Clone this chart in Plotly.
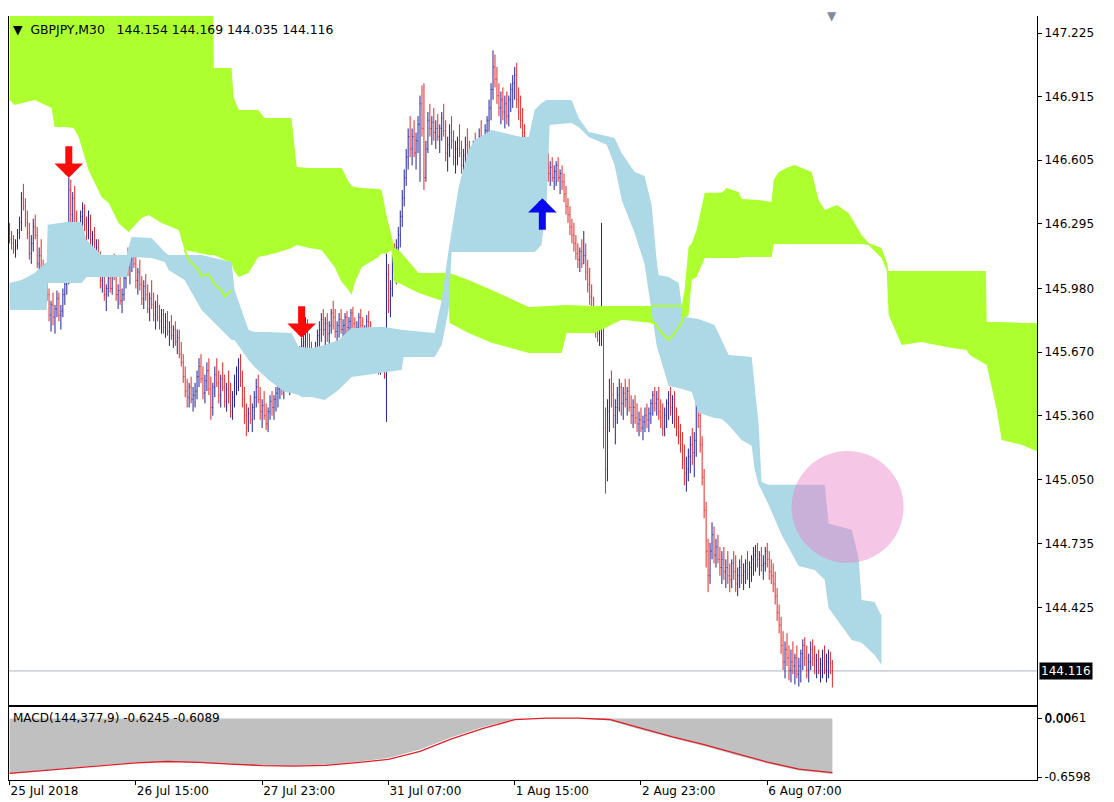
import plotly.graph_objects as go

# ---------------- price bars (GBPJPY M30) ----------------
first_open = 146.27
bar_high = [
146.30,146.26,146.24,146.22,146.27,146.33,146.45,146.49,146.42,146.36,
146.30,146.24,146.32,146.34,146.28,146.18,146.22,146.12,146.10,146.08,
145.98,145.92,145.96,145.90,145.97,145.96,145.90,145.98,146.04,146.10,
146.52,146.51,146.45,146.48,146.36,146.30,146.36,146.40,146.39,146.33,
146.36,146.34,146.26,146.28,146.22,146.22,146.16,146.10,146.10,146.00,
146.06,146.08,146.12,146.15,146.08,146.00,146.04,145.98,146.06,146.12,
146.18,146.14,146.20,146.22,146.14,146.08,146.12,146.04,146.02,146.05,
146.00,145.96,146.02,145.96,145.92,145.95,145.90,145.88,145.88,145.86,
145.87,145.82,145.85,145.80,145.82,145.78,145.78,145.72,145.66,145.60,
145.54,145.52,145.55,145.50,145.52,145.58,145.64,145.66,145.60,145.56,
145.62,145.64,145.55,145.52,145.60,145.64,145.58,145.56,145.62,145.56,
145.52,145.58,145.52,145.48,145.56,145.60,145.64,145.66,145.58,145.50,
145.42,145.40,145.46,145.42,145.48,145.54,145.56,145.50,145.44,145.48,
145.42,145.40,145.46,145.48,145.46,145.50,145.52,145.56,145.58,145.56,
145.60,145.62,145.58,145.64,145.66,145.62,145.66,145.70,145.74,145.78,
145.84,145.83,145.76,145.72,145.68,145.72,145.78,145.82,145.86,145.88,
145.84,145.86,145.82,145.88,145.92,145.88,145.82,145.86,145.88,145.83,
145.86,145.87,145.84,145.88,145.89,145.84,145.82,145.86,145.88,145.84,
145.80,145.85,145.87,145.82,145.78,145.74,145.76,145.70,145.68,145.74,
145.66,146.15,146.10,146.02,146.14,146.20,146.22,146.28,146.36,146.46,
146.56,146.66,146.76,146.82,146.76,146.80,146.74,146.82,146.92,146.97,
146.98,146.70,146.84,146.88,146.82,146.86,146.80,146.83,146.78,146.84,
146.88,146.80,146.72,146.78,146.82,146.75,146.70,146.72,146.78,146.70,
146.66,146.72,146.76,146.70,146.64,146.70,146.74,146.70,146.76,146.80,
146.72,146.78,146.82,146.90,146.98,147.14,147.12,147.06,146.98,146.94,
146.96,146.92,146.94,146.92,146.98,147.02,147.06,147.08,146.96,146.92,
146.86,146.78,146.68,146.58,146.52,146.54,146.50,146.52,146.48,146.52,
146.56,146.58,146.67,146.64,146.60,146.62,146.58,146.60,146.62,146.56,
146.58,146.54,146.48,146.42,146.38,146.32,146.30,146.24,146.20,146.18,
146.22,146.26,146.20,146.12,146.08,146.00,145.94,145.88,145.86,145.82,
146.30,145.84,145.40,145.44,145.54,145.58,145.52,145.44,145.50,145.54,
145.52,145.50,145.54,145.50,145.54,145.46,145.44,145.46,145.42,145.38,
145.40,145.36,145.40,145.42,145.40,145.44,145.48,145.50,145.48,145.50,
145.44,145.42,145.40,145.44,145.48,145.50,145.46,145.48,145.40,145.36,
145.32,145.28,145.22,145.16,145.20,145.26,145.30,145.28,145.46,145.54,
145.40,145.26,145.10,144.94,144.76,144.74,144.84,144.82,144.76,144.78,
144.72,144.70,144.72,144.66,144.70,144.64,144.66,144.70,144.68,144.62,
144.66,144.68,144.64,144.66,144.70,144.65,144.68,144.72,144.73,144.74,
144.70,144.72,144.68,144.72,144.74,144.70,144.66,144.64,144.60,144.52,
144.44,144.38,144.31,144.26,144.30,144.24,144.22,144.26,144.20,144.24,
144.18,144.22,144.27,144.28,144.24,144.20,144.26,144.27,144.24,144.20,
144.22,144.18,144.22,144.24,144.20,144.22,144.21,144.169]
bar_low = [
146.20,146.17,146.15,146.13,146.17,146.22,146.26,146.36,146.28,146.22,
146.12,146.10,146.16,146.22,146.08,146.03,146.06,146.00,145.98,145.92,
145.82,145.77,145.80,145.76,145.84,145.82,145.78,145.84,145.90,145.95,
146.00,146.30,146.20,146.28,146.14,146.15,146.22,146.28,146.26,146.20,
146.22,146.18,146.12,146.10,146.06,146.04,145.98,145.96,145.92,145.87,
145.94,145.96,145.95,146.02,145.92,145.88,145.90,145.86,145.92,145.98,
146.04,146.00,146.06,146.08,145.98,145.95,145.97,145.90,145.88,145.92,
145.86,145.82,145.88,145.82,145.78,145.82,145.78,145.76,145.76,145.74,
145.75,145.70,145.73,145.69,145.70,145.66,145.64,145.60,145.52,145.45,
145.40,145.40,145.42,145.38,145.40,145.44,145.50,145.52,145.44,145.42,
145.48,145.46,145.34,145.36,145.45,145.50,145.42,145.40,145.48,145.40,
145.38,145.42,145.35,145.34,145.40,145.46,145.48,145.50,145.40,145.32,
145.26,145.28,145.32,145.28,145.34,145.40,145.42,145.34,145.30,145.34,
145.29,145.28,145.34,145.36,145.34,145.38,145.40,145.44,145.46,145.44,
145.48,145.50,145.46,145.50,145.52,145.49,145.52,145.54,145.52,145.60,
145.66,145.68,145.62,145.58,145.56,145.60,145.64,145.68,145.72,145.75,
145.70,145.72,145.70,145.76,145.78,145.74,145.70,145.74,145.76,145.72,
145.75,145.76,145.73,145.77,145.78,145.72,145.71,145.75,145.77,145.72,
145.70,145.74,145.75,145.70,145.64,145.60,145.62,145.56,145.56,145.60,
145.54,145.33,145.86,145.84,145.94,146.02,146.00,146.12,146.18,146.28,
146.38,146.48,146.56,146.62,146.58,146.62,146.56,146.64,146.50,146.72,
146.46,146.50,146.64,146.72,146.68,146.70,146.66,146.70,146.64,146.70,
146.72,146.60,146.55,146.62,146.66,146.58,146.54,146.58,146.62,146.54,
146.51,146.56,146.60,146.54,146.50,146.56,146.60,146.55,146.62,146.64,
146.58,146.64,146.68,146.72,146.80,146.90,146.96,146.88,146.82,146.78,
146.80,146.76,146.78,146.77,146.84,146.86,146.90,146.86,146.80,146.76,
146.70,146.60,146.50,146.42,146.38,146.36,146.35,146.38,146.34,146.36,
146.42,146.44,146.48,146.50,146.48,146.50,146.46,146.48,146.50,146.44,
146.46,146.40,146.34,146.30,146.24,146.20,146.16,146.12,146.08,146.06,
146.08,146.10,146.02,145.96,145.90,145.84,145.78,145.74,145.72,145.70,
145.70,145.20,144.98,145.04,145.28,145.40,145.30,145.22,145.32,145.38,
145.36,145.34,145.40,145.36,145.38,145.32,145.30,145.32,145.28,145.26,
145.28,145.24,145.28,145.30,145.28,145.32,145.36,145.38,145.36,145.34,
145.30,145.26,145.26,145.30,145.34,145.36,145.32,145.30,145.26,145.22,
145.18,145.10,145.02,144.99,145.04,145.08,145.12,145.06,145.16,145.30,
145.18,145.02,144.86,144.62,144.50,144.54,144.66,144.64,144.62,144.64,
144.58,144.54,144.56,144.52,144.54,144.50,144.52,144.56,144.50,144.48,
144.52,144.54,144.51,144.54,144.56,144.52,144.55,144.58,144.60,144.62,
144.58,144.60,144.56,144.60,144.62,144.56,144.54,144.50,144.44,144.36,
144.30,144.20,144.12,144.08,144.14,144.07,144.06,144.10,144.05,144.08,
144.04,144.06,144.12,144.14,144.08,144.06,144.12,144.14,144.10,144.08,
144.10,144.06,144.08,144.10,144.06,144.08,144.10,144.035]
bar_close = [
146.22,146.20,146.17,146.19,146.25,146.30,146.42,146.38,146.30,146.25,
146.15,146.20,146.28,146.24,146.10,146.14,146.08,146.03,146.06,145.95,
145.85,145.90,145.84,145.88,145.93,145.85,145.87,145.95,146.00,146.06,
146.46,146.34,146.42,146.30,146.18,146.27,146.33,146.37,146.29,146.24,
146.32,146.20,146.22,146.13,146.18,146.07,146.02,146.06,145.95,145.98,
146.03,145.98,146.09,146.04,145.95,145.97,145.92,145.95,146.03,146.10,
146.08,146.12,146.16,146.10,146.02,146.06,146.00,145.93,145.99,145.95,
145.88,145.93,145.90,145.85,145.89,145.84,145.82,145.85,145.79,145.82,
145.77,145.79,145.75,145.78,145.72,145.74,145.66,145.62,145.55,145.48,
145.45,145.50,145.44,145.46,145.48,145.55,145.60,145.54,145.47,145.53,
145.58,145.49,145.40,145.50,145.56,145.52,145.46,145.54,145.50,145.43,
145.49,145.46,145.38,145.45,145.52,145.58,145.62,145.53,145.44,145.36,
145.30,145.37,145.34,145.40,145.45,145.50,145.44,145.38,145.41,145.36,
145.32,145.38,145.43,145.40,145.44,145.47,145.49,145.53,145.50,145.54,
145.57,145.52,145.56,145.60,145.55,145.58,145.63,145.57,145.70,145.72,
145.80,145.71,145.66,145.62,145.65,145.69,145.75,145.78,145.83,145.78,
145.81,145.76,145.80,145.86,145.84,145.77,145.80,145.83,145.78,145.80,
145.84,145.79,145.82,145.86,145.81,145.76,145.79,145.84,145.80,145.75,
145.78,145.82,145.78,145.73,145.68,145.70,145.64,145.60,145.66,145.62,
145.58,146.05,145.92,145.98,146.10,146.06,146.18,146.24,146.33,146.42,
146.52,146.62,146.72,146.66,146.72,146.64,146.70,146.78,146.88,146.76,
146.52,146.66,146.80,146.76,146.79,146.74,146.76,146.72,146.76,146.81,
146.75,146.64,146.68,146.74,146.70,146.62,146.66,146.70,146.64,146.58,
146.63,146.68,146.62,146.57,146.60,146.67,146.64,146.68,146.72,146.66,
146.70,146.75,146.80,146.86,146.95,147.06,147.00,146.92,146.86,146.90,
146.84,146.88,146.82,146.90,146.95,146.98,147.02,146.90,146.84,146.80,
146.74,146.64,146.54,146.46,146.48,146.40,146.44,146.42,146.45,146.48,
146.52,146.55,146.62,146.54,146.57,146.52,146.55,146.58,146.52,146.54,
146.50,146.44,146.38,146.34,146.28,146.24,146.20,146.15,146.12,146.16,
146.10,146.14,146.06,146.00,145.94,145.88,145.82,145.80,145.76,145.78,
145.82,145.30,145.10,145.38,145.50,145.46,145.36,145.40,145.46,145.50,
145.42,145.47,145.44,145.48,145.40,145.36,145.40,145.35,145.32,145.34,
145.30,145.33,145.36,145.34,145.37,145.42,145.46,145.42,145.44,145.38,
145.35,145.30,145.36,145.42,145.46,145.40,145.44,145.34,145.30,145.26,
145.22,145.14,145.08,145.10,145.16,145.22,145.18,145.24,145.42,145.36,
145.22,145.06,144.90,144.70,144.58,144.70,144.78,144.68,144.72,144.66,
144.62,144.66,144.60,144.62,144.58,144.56,144.64,144.60,144.54,144.58,
144.62,144.58,144.60,144.64,144.59,144.62,144.66,144.68,144.70,144.66,
144.68,144.63,144.64,144.70,144.66,144.60,144.58,144.54,144.48,144.40,
144.34,144.24,144.16,144.22,144.18,144.12,144.16,144.14,144.18,144.10,
144.14,144.20,144.24,144.18,144.12,144.16,144.22,144.18,144.14,144.17,
144.12,144.15,144.18,144.12,144.16,144.18,144.154,144.116]
bar_open = [first_open] + bar_close[:-1]
bar_index = list(range(len(bar_close)))

# ---------------- cloud 1 (green) ----------------
green_x = [0, 2.5, 12.7, 21.3, 22.8, 27.9, 32.4, 35.0, 40.0, 43.1,
           46.6, 50.2, 55.2, 60.3, 66.9, 70.5, 77.0, 85.7, 88.7, 100.9,
           103.2, 103.5, 112.5, 113.5, 116.1, 121.1, 126.0, 129.2, 135.0, 142.9,
           145.5, 152.0, 158.1, 164.7, 168.3, 171.8, 173.3, 174.9, 178.4, 187.0,
           188.5, 191.0, 193.6, 195.1, 197.2, 207.3, 222.5, 223.0, 232.6, 244.3,
           263.1, 279.8, 282.3, 296.5, 310.2, 325.4, 340.6, 342.1, 344.1, 345.7,
           348.2, 352.3, 360.9, 363.4, 369.5, 371.0, 379.6, 386.2, 387.2, 389.8,
           394.8, 397.9, 406.5, 410.0, 413.1, 419.2, 425.2, 431.8, 435.3, 441.9,
           444.5, 445.5, 452.1, 462.2, 477.4, 485.0, 486.6, 492.7, 494.8, 495.2,
           500.3, 502.8, 512.9, 521.5]
green_upper = [147.5] * 20 + [
           147.5, 147.055, 147.055, 146.913, 146.850, 146.850, 146.850, 146.811, 146.811, 146.811,
           146.572, 146.567, 146.567, 146.567, 146.567, 146.500, 146.480, 146.475, 146.470, 146.465,
           146.460, 146.338, 146.241, 146.177, 146.168, 146.056, 146.056, 146.056, 146.021, 145.973,
           145.890, 145.900, 145.900, 145.895, 145.895, 145.895, 145.895, 145.973, 146.182, 146.200,
           146.265, 146.446, 146.446, 146.470, 146.450, 146.416, 146.411, 146.402, 146.509, 146.548,
           146.572, 146.582, 146.548, 146.411, 146.363, 146.387, 146.348, 146.241, 146.202, 146.177,
           146.109, 146.065, 146.065, 146.065, 146.065, 146.065, 146.065, 146.065, 146.065, 145.817,
           145.817, 145.817, 145.812, 145.812]
green_lower = [
           146.899, 146.874, 146.899, 146.860, 146.767, 146.767, 146.762, 146.718, 146.558, 146.494,
           146.426, 146.397, 146.299, 146.255, 146.324, 146.338, 146.299, 146.265, 146.168, 146.143,
           146.143, 146.143, 146.104, 146.070, 146.036, 146.056, 146.134, 146.139, 146.153, 146.177,
           146.192, 146.177, 146.168, 146.085, 146.012, 145.973, 145.948, 146.007, 146.085, 146.134,
           146.150, 146.150, 146.168, 146.007, 146.007, 145.958, 145.909, 145.812, 145.763, 145.715,
           145.666, 145.666, 145.763, 145.763, 145.827, 145.812, 145.802, 145.827, 145.851, 146.021,
           146.036, 146.129, 146.129, 146.129, 146.129, 146.134, 146.134, 146.134, 146.197, 146.197,
           146.197, 146.197, 146.197, 146.197, 146.197, 146.197, 146.197, 146.197, 146.192, 146.129,
           146.070, 145.851, 145.705, 145.719, 145.690, 145.680, 145.656, 145.622, 145.607, 145.607,
           145.388, 145.242, 145.218, 145.183]

# green span line visible through the blue cloud
green_line_a_x = [88.7, 90.7, 95.8, 97.3, 100.9, 103.9, 107.5, 109.0, 112.5]
green_line_a_y = [146.168, 146.12, 146.07, 146.04, 146.05, 146.00, 145.97, 145.94, 145.97]
green_line_b_x = [325.4, 326.9, 330.5, 334.0, 337.0, 340.6, 341.6]
green_line_b_y = [145.812, 145.812, 145.763, 145.729, 145.763, 145.812, 145.890]
green_line_c_x = [325.4, 341.0]
green_line_c_y = [145.895, 145.895]

# ---------------- cloud 2 (light blue) ----------------
blue_x = [0, 6.1, 12.7, 18.8, 19.3, 28.9, 36.5, 39.0, 44.1, 46.6,
          59.3, 61.8, 72.0, 78.6, 80.6, 88.7, 97.3, 112.5, 114.0, 121.1,
          124.2, 131.3, 139.4, 142.9, 146.5, 148.0, 153.1, 159.7, 166.7, 173.3,
          188.5, 198.7, 199.7, 215.4, 219.0, 222.5, 224.0, 227.6, 232.6, 235.7,
          244.3, 259.5, 263.1, 266.1, 269.6, 272.2, 273.7, 284.8, 288.4, 293.5,
          302.6, 306.6, 310.2, 316.8, 321.8, 325.4, 327.9, 328.9, 334.0, 339.1,
          340.6, 342.1, 345.7, 349.2, 357.3, 360.9, 364.4, 371.0, 376.1, 377.6,
          379.6, 381.1, 384.7, 391.3, 399.9, 408.0, 413.1, 415.1, 426.8, 430.3,
          431.8, 438.4, 441.9]
blue_top = [
          146.007, 146.021, 146.056, 146.109, 146.290, 146.304, 146.304, 146.216, 146.168, 146.143,
          146.143, 146.231, 146.226, 146.158, 146.143, 146.143, 146.143, 146.109, 145.973, 145.778,
          145.768, 145.768, 145.763, 145.763, 145.695, 145.695, 145.690, 145.705, 145.729, 145.788,
          145.793, 145.778, 145.778, 145.763, 145.924, 146.168, 146.265, 146.475, 146.655, 146.704,
          146.752, 146.718, 146.718, 146.850, 146.884, 146.899, 146.899, 146.899, 146.811, 146.743,
          146.723, 146.714, 146.640, 146.548, 146.528, 146.387, 146.119, 146.046, 146.036, 146.007,
          145.900, 145.841, 145.836, 145.831, 145.802, 145.729, 145.656, 145.651, 145.646, 145.505,
          145.320, 145.037, 145.023, 145.023, 145.023, 145.023, 145.023, 144.833, 144.804, 144.667,
          144.462, 144.452, 144.384]
blue_bottom = [
          145.875, 145.875, 145.875, 145.875, 146.007, 146.007, 146.007, 146.036, 146.036, 146.036,
          146.036, 146.134, 146.129, 146.109, 146.070, 146.021, 145.875, 145.729, 145.729, 145.632,
          145.597, 145.534, 145.476, 145.471, 145.461, 145.451, 145.451, 145.437, 145.485, 145.549,
          145.568, 145.583, 145.646, 145.646, 145.705, 145.875, 146.158, 146.158, 146.158, 146.158,
          146.158, 146.158, 146.158, 146.158, 146.192, 146.411, 146.777, 146.787, 146.767, 146.718,
          146.680, 146.582, 146.411, 146.250, 146.099, 145.875, 145.705, 145.671, 145.505, 145.495,
          145.490, 145.485, 145.476, 145.374, 145.349, 145.344, 145.315, 145.242, 145.213, 145.096,
          145.023, 144.998, 144.925, 144.779, 144.628, 144.608, 144.560, 144.423, 144.267, 144.258,
          144.253, 144.194, 144.146]

# ---------------- MACD(144,377,9) ----------------
macd_x = [0, 16, 32, 48, 64, 80, 96, 112, 128, 144, 160, 176, 192, 208,
          224, 240, 256, 272, 288, 304, 320, 336, 352, 368, 384, 400, 416, 417]
macd_main = [-0.625, -0.585, -0.555, -0.520, -0.496, -0.484, -0.497, -0.517, -0.533, -0.536,
             -0.521, -0.488, -0.445, -0.350, -0.210, -0.095, -0.004, 0.006, 0.002, -0.022,
             -0.125, -0.218, -0.308, -0.410, -0.505, -0.585, -0.622, -0.6245]
macd_signal = [-0.618, -0.588, -0.560, -0.525, -0.500, -0.484, -0.493, -0.513, -0.530, -0.537,
               -0.527, -0.496, -0.460, -0.370, -0.230, -0.110, -0.012, 0.005, 0.006, -0.010,
               -0.110, -0.205, -0.294, -0.395, -0.490, -0.570, -0.607, -0.6089]

# ---------------- signals / marks ----------------
sell_signal_bars = [30, 148]
buy_signal_bars = [270]
highlight_bar = 424.7
highlight_price = 144.915

# ---------------- axes ----------------
time_tick_bars = [0, 64, 128, 192, 256, 320, 384]
time_tick_labels = ["25 Jul 2018", "26 Jul 15:00", "27 Jul 23:00", "31 Jul 07:00",
                    "1 Aug 15:00", "2 Aug 23:00", "6 Aug 07:00"]
price_ticks = [147.225, 146.915, 146.605, 146.295, 145.980, 145.670,
               145.360, 145.050, 144.735, 144.425]
macd_ticks = [0.0061, 0.0, -0.6598]
macd_tick_labels = ["0.0061", "0.00", "-0.6598"]

GREEN = "#ADFF2F"
LBLUE = "#ADD8E6"
FONT = "DejaVu Sans"

fig = go.Figure()

fig.add_trace(go.Scatter(x=green_x, y=green_lower, mode="lines", line=dict(width=0),
                         hoverinfo="skip"))
fig.add_trace(go.Scatter(x=green_x, y=green_upper, mode="lines", line=dict(width=0),
                         fill="tonexty", fillcolor=GREEN, hoverinfo="skip"))
fig.add_trace(go.Scatter(x=blue_x, y=blue_bottom, mode="lines", line=dict(width=0),
                         hoverinfo="skip"))
fig.add_trace(go.Scatter(x=blue_x, y=blue_top, mode="lines", line=dict(width=0),
                         fill="tonexty", fillcolor=LBLUE, hoverinfo="skip"))
for gx, gy in [(green_line_a_x, green_line_a_y), (green_line_b_x, green_line_b_y),
               (green_line_c_x, green_line_c_y)]:
    fig.add_trace(go.Scatter(x=gx, y=gy, mode="lines", line=dict(color=GREEN, width=2),
                             hoverinfo="skip"))

fig.add_trace(go.Ohlc(x=bar_index, open=bar_open, high=bar_high, low=bar_low, close=bar_close,
                      increasing=dict(line=dict(color="#22229C", width=1)),
                      decreasing=dict(line=dict(color="#E22A2A", width=1)),
                      tickwidth=0.3, hoverinfo="skip"))

fig.add_trace(go.Scatter(x=macd_x, y=macd_main, mode="lines", line=dict(width=0),
                         fill="tozeroy", fillcolor="#C0C0C0", xaxis="x2", yaxis="y2",
                         hoverinfo="skip"))
fig.add_trace(go.Scatter(x=macd_x, y=macd_signal, mode="lines",
                         line=dict(color="#E01E28", width=1.3), xaxis="x2", yaxis="y2",
                         hoverinfo="skip"))

annotations = []
for b in sell_signal_bars:
    annotations.append(dict(x=b, y=bar_high[b], xref="x", yref="y", text="", showarrow=True,
                            ax=0, ay=-33, arrowhead=1, arrowsize=0.68, arrowwidth=7,
                            arrowcolor="#FF0A0A", standoff=0))
for b in buy_signal_bars:
    annotations.append(dict(x=b, y=bar_low[b], xref="x", yref="y", text="", showarrow=True,
                            ax=0, ay=33, arrowhead=1, arrowsize=0.68, arrowwidth=7,
                            arrowcolor="#0A0AF0", standoff=0))

last = len(bar_close) - 1
title = ("\u25BC\u00A0\u00A0GBPJPY,M30\u00A0\u00A0\u00A0%.3f %.3f %.3f %.3f"
         % (bar_open[last], bar_high[last], bar_low[last], bar_close[last]))
annotations.append(dict(x=0, y=1, xref="x domain", yref="y domain", xanchor="left",
                        yanchor="top", xshift=2, yshift=-4, text=title, showarrow=False,
                        font=dict(family=FONT, size=12.4, color="black")))
annotations.append(dict(x=0, y=1, xref="x2 domain", yref="y2 domain", xanchor="left",
                        yanchor="top", xshift=2, yshift=-2,
                        text="MACD(144,377,9) %.4f %.4f" % (macd_main[-1], macd_signal[-1]),
                        showarrow=False, font=dict(family=FONT, size=12, color="black")))
annotations.append(dict(x=1, y=bar_close[last], xref="x domain", yref="y", xanchor="left",
                        yanchor="middle", xshift=2, text="%.3f" % bar_close[last],
                        showarrow=False, bgcolor="black", borderpad=1,
                        font=dict(family=FONT, size=12, color="white")))
annotations.append(dict(x=bar_index[last], y=1, xref="x", yref="paper", xanchor="center",
                        yanchor="middle", text="\u25BC", showarrow=False, yshift=0,
                        font=dict(family=FONT, size=12, color="#7F8C9C")))

shapes = [
    dict(type="line", xref="x domain", x0=0, x1=1, yref="y", y0=bar_close[last],
         y1=bar_close[last], line=dict(color="#AAB4C4", width=1), layer="below"),
    dict(type="circle", xref="x", yref="y", xsizemode="pixel", ysizemode="pixel",
         xanchor=highlight_bar, yanchor=highlight_price, x0=-56, x1=56, y0=-56, y1=56,
         fillcolor="rgba(236,128,200,0.45)", line=dict(width=0), layer="above"),
]

# the page body adds an 8px margin, so the figure is 8px smaller each way
FIG_W, FIG_H = 1106, 794
M_L, M_R, M_T, M_B = 1, 77, 8, 22
plot_h = FIG_H - M_T - M_B
main_lo = (772 - 697) / plot_h
macd_hi = (772 - 699) / plot_h

fig.update_layout(
    width=FIG_W, height=FIG_H,
    margin=dict(l=M_L, r=M_R, t=M_T, b=M_B),
    paper_bgcolor="white", plot_bgcolor="white",
    showlegend=False, hovermode=False,
    font=dict(family=FONT, size=12, color="black"),
    xaxis=dict(domain=[0, 1], anchor="y", range=[-0.3, 520.7], showline=True,
               linecolor="black", linewidth=1, mirror=False, showgrid=False,
               zeroline=False, showticklabels=False, ticks="",
               rangeslider=dict(visible=False)),
    yaxis=dict(domain=[main_lo, 1], anchor="x", side="right", range=[143.950, 147.308],
               tickvals=price_ticks, ticktext=["%.3f" % v for v in price_ticks],
               ticks="outside", ticklen=4, tickcolor="black", showline=True, mirror=True,
               linecolor="black", linewidth=1, showgrid=False, zeroline=False),
    xaxis2=dict(domain=[0, 1], anchor="y2", matches="x", showline=True, mirror=True,
                linecolor="black", linewidth=1, ticks="outside", ticklen=4,
                tickcolor="black", tickvals=time_tick_bars, ticktext=time_tick_labels,
                ticklabelposition="outside right", showgrid=False, zeroline=False,
                rangeslider=dict(visible=False)),
    yaxis2=dict(domain=[0, macd_hi], anchor="x2", side="right", range=[-0.693, 0.131],
                tickvals=macd_ticks, ticktext=macd_tick_labels, ticks="outside", ticklen=4,
                tickcolor="black", showline=True, mirror=True, linecolor="black",
                linewidth=1, showgrid=False, zeroline=False),
    annotations=annotations,
    shapes=shapes,
)

fig.write_html("out.html", config={"displayModeBar": False})
